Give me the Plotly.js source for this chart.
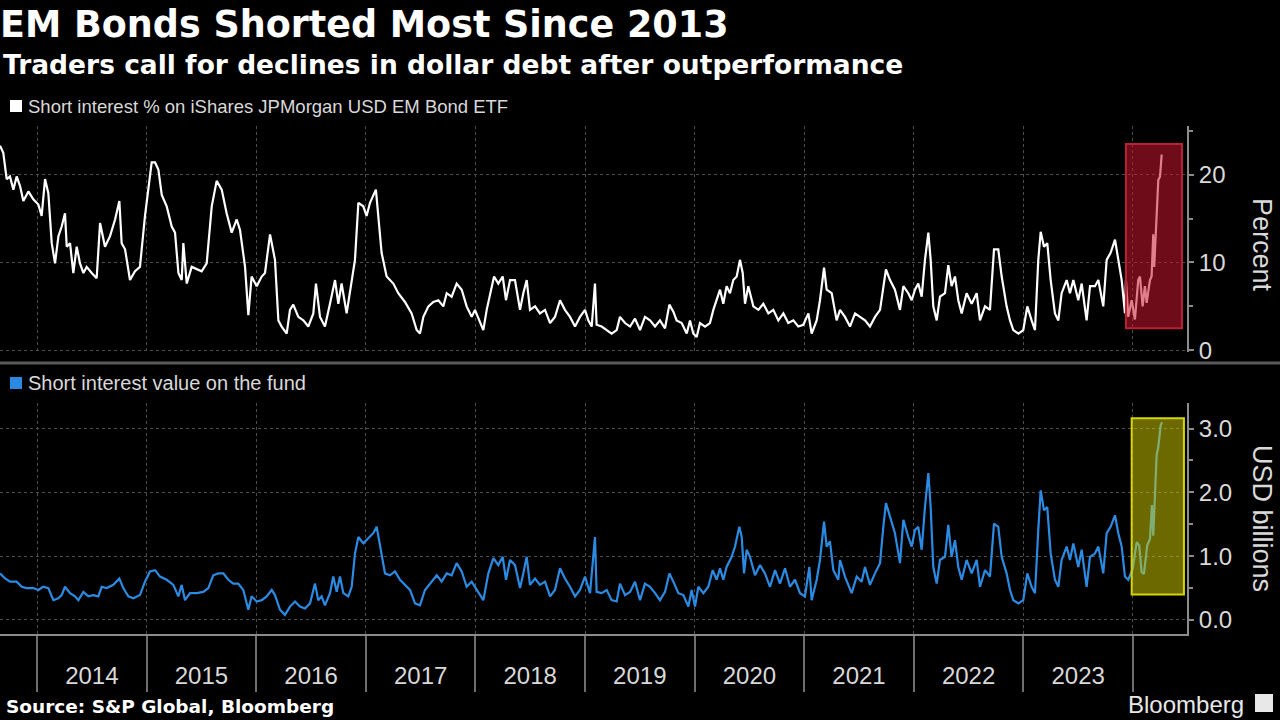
<!DOCTYPE html>
<html><head><meta charset="utf-8">
<script src="https://cdn.plot.ly/plotly-3.0.1.min.js"></script>
<style>html,body{margin:0;padding:0;background:#000;}#chart{width:1280px;height:720px;}</style>
</head><body><div id="chart"></div>
<script>
// ---- Data (time in decimal years) ----
const tTop = [
2013.662,2013.692,2013.723,2013.753,2013.784,2013.814,2013.845,2013.875,2013.921,2013.966,
2014.012,2014.042,2014.073,2014.103,2014.134,2014.164,2014.195,2014.225,2014.255,2014.271,
2014.301,2014.331,2014.362,2014.392,2014.423,2014.453,2014.499,2014.544,2014.575,2014.620,
2014.666,2014.712,2014.751,2014.772,2014.803,2014.848,2014.894,2014.939,2014.985,2015.016,
2015.046,2015.077,2015.107,2015.138,2015.183,2015.229,2015.259,2015.290,2015.320,2015.335,
2015.366,2015.411,2015.457,2015.502,2015.548,2015.594,2015.639,2015.685,2015.730,2015.776,
2015.822,2015.852,2015.898,2015.928,2015.958,2016.004,2016.050,2016.080,2016.126,2016.171,
2016.202,2016.232,2016.278,2016.308,2016.338,2016.384,2016.430,2016.475,2016.521,2016.545,
2016.582,2016.627,2016.673,2016.719,2016.749,2016.779,2016.825,2016.871,2016.901,2016.932,
2016.977,2017.007,2017.038,2017.092,2017.114,2017.144,2017.190,2017.251,2017.296,2017.357,
2017.418,2017.464,2017.494,
2017.525,2017.571,2017.616,2017.662,2017.707,2017.738,2017.783,2017.829,2017.875,2017.920,
2017.966,2017.996,2018.042,2018.072,2018.103,2018.133,2018.170,2018.209,2018.249,2018.279,
2018.316,2018.361,2018.407,2018.437,2018.468,2018.498,2018.544,2018.589,2018.635,2018.681,
2018.726,2018.772,2018.817,2018.863,2018.909,2018.954,2019.000,2019.030,2019.061,2019.091,
2019.106,2019.152,2019.198,2019.243,2019.289,2019.319,2019.365,2019.411,2019.456,2019.502,
2019.547,2019.593,2019.639,2019.684,2019.730,2019.770,2019.806,2019.836,2019.882,2019.928,
2019.958,2019.988,2020.019,2020.049,2020.095,2020.140,2020.171,2020.201,2020.232,2020.262,
2020.292,2020.323,2020.353,2020.384,2020.414,2020.439,2020.460,2020.490,2020.536,2020.582,
2020.627,2020.673,2020.718,2020.764,2020.810,2020.855,2020.901,2020.946,2020.992,2021.038,
2021.068,2021.114,2021.144,2021.181,2021.205,2021.251,2021.296,
2021.327,2021.372,2021.418,2021.464,2021.509,2021.555,2021.600,2021.646,2021.692,2021.722,
2021.746,2021.783,2021.828,2021.874,2021.905,2021.950,2021.981,2022.011,2022.041,2022.072,
2022.102,2022.133,2022.154,2022.178,2022.209,2022.239,2022.285,2022.315,2022.345,2022.376,
2022.406,2022.437,2022.482,2022.528,2022.574,2022.604,2022.650,2022.695,2022.732,2022.771,
2022.802,2022.847,2022.878,2022.908,2022.954,2022.999,2023.036,2023.075,2023.106,2023.136,
2023.158,2023.188,2023.218,2023.249,2023.288,2023.319,2023.349,2023.395,2023.425,2023.456,
2023.501,2023.532,2023.577,2023.608,2023.653,2023.684,2023.729,2023.760,2023.796,2023.836,
2023.866,2023.897,2023.927,2023.936,2023.957,2023.988,2024.018,2024.048,2024.064,2024.088,
2024.109,2024.125,2024.155,2024.170,2024.185,2024.194,2024.231,2024.247,2024.262
];
const pctTop = [
23.3,22.5,19.5,19.8,18.3,19.8,18.7,17.0,18.1,17.2,
16.6,15.3,19.5,17.9,12.2,9.9,13.0,14.1,15.6,11.8,
12.2,8.8,11.8,9.9,8.8,9.5,8.8,8.2,14.5,11.8,
13.0,14.9,17.0,12.2,11.5,8.0,9.0,9.5,15.3,18.7,
21.4,21.4,20.6,17.7,16.4,14.1,13.4,8.8,8.0,12.2,
7.6,9.5,9.2,9.0,9.9,16.4,19.3,18.3,15.6,13.4,
14.9,13.7,9.5,4.0,8.4,7.3,8.4,8.8,13.2,10.3,
3.4,2.7,1.9,4.6,5.2,3.8,3.4,2.7,4.2,7.6,
3.8,2.7,5.3,8.0,5.3,7.6,4.2,8.0,10.3,16.8,
16.4,15.3,16.8,18.3,15.6,11.1,8.4,7.6,6.5,5.5,
4.2,2.3,1.9,
3.8,5.0,5.5,5.7,5.0,6.5,6.1,7.6,6.9,5.0,
3.8,4.6,3.1,2.3,4.6,6.5,8.4,7.6,8.4,5.7,
8.0,8.0,4.6,6.5,8.0,4.6,5.0,4.2,4.6,3.1,
3.8,5.7,4.6,3.8,2.7,3.8,4.6,3.4,2.7,7.6,
2.9,2.7,2.3,1.9,2.3,3.8,3.1,2.7,3.6,2.3,
3.8,3.4,2.7,3.4,2.5,5.2,4.4,3.4,3.1,1.9,
3.4,1.9,1.5,3.1,2.7,3.1,4.6,5.7,6.9,5.3,
7.3,6.5,8.0,8.4,10.3,8.8,5.3,7.3,5.0,4.6,
5.3,4.2,4.6,3.4,4.2,3.1,3.4,2.7,2.9,4.2,
1.9,3.4,5.7,9.4,6.9,6.5,3.4,
4.6,3.8,2.7,4.2,3.8,3.4,2.7,3.8,4.6,7.3,
9.2,8.0,6.9,4.6,7.3,6.5,5.7,6.9,7.6,6.1,
10.3,13.4,10.3,5.0,3.4,6.1,6.5,9.7,7.3,8.4,
5.7,4.2,6.5,5.3,6.5,3.4,5.0,4.6,11.5,11.5,
8.4,5.0,3.4,2.3,1.9,2.3,5.0,3.4,2.3,10.3,
13.5,11.8,12.2,8.0,4.2,3.4,6.5,8.0,6.5,8.0,
5.7,7.6,3.4,7.3,7.3,8.0,5.0,10.3,11.1,12.6,
10.3,8.0,4.2,8.0,3.8,5.7,3.5,8.0,8.4,5.0,
7.3,5.4,8.0,8.4,13.2,9.5,19.4,19.8,22.3
];
const tBot = [
2013.662,2013.708,2013.753,2013.814,2013.860,2013.905,2013.966,2014.012,2014.057,2014.103,
2014.149,2014.194,2014.225,2014.255,2014.301,2014.346,2014.377,2014.423,2014.468,2014.514,
2014.559,2014.590,2014.635,2014.696,2014.751,2014.787,2014.833,2014.879,2014.939,2014.985,
2015.031,2015.077,2015.122,2015.183,2015.244,2015.289,2015.320,2015.350,2015.396,2015.456,
2015.517,2015.563,2015.608,2015.654,2015.700,2015.745,2015.791,2015.836,2015.882,2015.928,
2015.958,2016.004,2016.050,2016.095,2016.141,2016.171,2016.217,2016.262,2016.308,2016.354,
2016.399,2016.445,2016.491,2016.536,2016.566,2016.597,2016.627,2016.673,2016.703,2016.734,
2016.764,2016.795,2016.840,2016.871,2016.901,2016.932,2016.977,2017.023,2017.068,2017.099,
2017.129,2017.175,2017.220,2017.266,2017.312,2017.357,2017.403,2017.449,2017.494,
2017.540,2017.586,2017.647,2017.692,2017.738,2017.783,2017.829,2017.875,2017.920,2017.966,
2018.012,2018.072,2018.118,2018.164,2018.209,2018.249,2018.279,2018.316,2018.361,2018.407,
2018.437,2018.468,2018.498,2018.544,2018.589,2018.635,2018.681,2018.726,2018.772,2018.817,
2018.863,2018.909,2018.954,2019.000,2019.046,2019.091,2019.106,2019.152,2019.198,2019.243,
2019.289,2019.319,2019.365,2019.411,2019.456,2019.502,2019.547,2019.593,2019.639,2019.684,
2019.730,2019.770,2019.806,2019.852,2019.897,2019.943,2019.973,2020.004,2020.034,2020.080,
2020.125,2020.165,2020.201,2020.232,2020.262,2020.292,2020.338,2020.369,2020.408,2020.430,
2020.451,2020.475,2020.505,2020.551,2020.597,2020.642,2020.688,2020.734,2020.779,2020.825,
2020.870,2020.916,2020.962,2021.007,2021.047,2021.068,2021.114,2021.144,2021.181,2021.205,
2021.235,2021.266,2021.311,
2021.327,2021.372,2021.433,2021.479,2021.524,2021.555,2021.600,2021.646,2021.692,2021.722,
2021.746,2021.783,2021.828,2021.874,2021.905,2021.950,2021.981,2022.011,2022.041,2022.072,
2022.102,2022.133,2022.154,2022.178,2022.209,2022.239,2022.285,2022.315,2022.345,2022.376,
2022.406,2022.437,2022.482,2022.528,2022.574,2022.604,2022.650,2022.695,2022.732,2022.771,
2022.802,2022.847,2022.878,2022.908,2022.954,2022.999,2023.036,2023.075,2023.106,2023.136,
2023.158,2023.188,2023.218,2023.249,2023.288,2023.319,2023.349,2023.395,2023.425,2023.456,
2023.501,2023.532,2023.577,2023.608,2023.653,2023.684,2023.729,2023.760,2023.796,2023.836,
2023.866,2023.897,2023.927,2023.957,2023.997,2024.034,2024.057,2024.079,2024.100,2024.130,
2024.155,2024.173,2024.185,2024.216,2024.231,2024.253,2024.265
];
const usdBot = [
0.73,0.65,0.60,0.60,0.52,0.50,0.50,0.47,0.52,0.50,
0.31,0.34,0.39,0.52,0.42,0.37,0.31,0.44,0.37,0.39,
0.37,0.52,0.50,0.55,0.65,0.50,0.37,0.34,0.39,0.60,
0.76,0.78,0.68,0.63,0.55,0.37,0.55,0.31,0.42,0.42,
0.44,0.50,0.70,0.73,0.73,0.63,0.57,0.57,0.47,0.16,
0.37,0.29,0.31,0.37,0.47,0.39,0.16,0.08,0.21,0.29,
0.21,0.18,0.26,0.57,0.31,0.37,0.23,0.42,0.68,0.44,
0.68,0.42,0.37,0.52,1.04,1.30,1.20,1.28,1.36,1.46,
1.15,0.73,0.70,0.76,0.63,0.55,0.47,0.26,0.23,
0.47,0.57,0.70,0.60,0.73,0.70,0.89,0.76,0.52,0.60,
0.47,0.31,0.73,0.97,0.86,0.99,0.63,0.94,0.86,0.50,
0.73,0.99,0.55,0.65,0.55,0.60,0.37,0.47,0.81,0.65,
0.52,0.37,0.47,0.68,0.42,1.30,0.44,0.42,0.47,0.31,
0.29,0.57,0.39,0.44,0.60,0.31,0.57,0.52,0.42,0.31,
0.44,0.73,0.60,0.42,0.39,0.21,0.47,0.21,0.52,0.42,
0.52,0.78,0.63,0.81,0.63,0.83,0.99,1.15,1.46,1.30,
0.73,1.10,0.99,0.70,0.86,0.73,0.52,0.78,0.57,0.81,
0.52,0.63,0.42,0.37,0.83,0.31,0.63,0.94,1.54,1.15,
1.23,0.78,0.63,
0.94,0.68,0.42,0.68,0.60,0.83,0.55,0.73,0.89,1.46,
1.83,1.62,1.36,0.89,1.57,1.30,1.15,1.41,1.46,1.10,
1.77,2.30,1.77,0.83,0.57,0.94,0.99,1.49,0.99,1.25,
0.83,0.63,0.94,0.73,0.94,0.52,0.78,0.68,1.51,1.46,
0.99,0.73,0.47,0.31,0.26,0.31,0.73,0.52,0.42,1.41,
2.03,1.72,1.77,1.04,0.63,0.52,0.94,1.15,0.94,1.20,
0.83,1.10,0.52,0.99,1.04,1.15,0.73,1.36,1.46,1.64,
1.36,1.15,0.68,0.63,0.80,1.22,1.17,0.75,0.72,1.17,
1.27,1.80,1.32,2.58,2.71,3.05,3.10
];
const yearBounds = [2014,2015,2016,2017,2018,2019,2020,2021,2022,2023,2024];
const yearMids   = [2014.5,2015.5,2016.5,2017.5,2018.5,2019.5,2020.5,2021.5,2022.5,2023.5];
const yearLabels = ['2014','2015','2016','2017','2018','2019','2020','2021','2022','2023'];
const xRange = [2013.662, 2024.493];
// highlighted recent period
const hiTopX = [2023.936, 2024.447], hiTopY = [2.5, 23.5];
const hiBotX = [2023.988, 2024.465], hiBotY = [0.40, 3.16];

// ---- Styling ----
const SANS = '"Liberation Sans", Arial, sans-serif';
const BOLD = '"DejaVu Sans", sans-serif';
const W = 1187, H = 720;         // plot width in px (margin.r = 93)
const px = v => v / W;           // horizontal pixel -> paper
const py = v => 1 - v / H;       // vertical pixel -> paper
const GRID = '#4d4d4d', AXIS = '#8c8c8c', TXT = '#d9d9d9';

const traces = [
  {x: tTop, y: pctTop, xaxis: 'x', yaxis: 'y', type: 'scatter', mode: 'lines',
   line: {color: '#ffffff', width: 2.2}, hoverinfo: 'skip', showlegend: false},
  {x: tBot, y: usdBot, xaxis: 'x2', yaxis: 'y2', type: 'scatter', mode: 'lines',
   line: {color: '#2b8be3', width: 2.2}, hoverinfo: 'skip', showlegend: false}
];

const layout = {
  width: 1280, height: 720,
  paper_bgcolor: '#000', plot_bgcolor: '#000',
  margin: {l: 0, r: 93, t: 0, b: 0},
  showlegend: false,
  title: {text: 'EM Bonds Shorted Most Since 2013', xref: 'container', x: 0, xanchor: 'left',
          yref: 'container', y: py(24), yanchor: 'middle',
          font: {family: BOLD, size: 36.5, weight: 'bold', color: '#ffffff'}},
  xaxis: {domain: [0, 1], anchor: 'y', range: xRange, tickmode: 'array', tickvals: yearBounds,
          showticklabels: false, ticks: '', showgrid: true, gridcolor: GRID, griddash: 'dot',
          gridwidth: 1, zeroline: false, showline: false},
  xaxis2: {domain: [0, 1], anchor: 'y2', range: xRange, tickmode: 'array', tickvals: yearMids,
           ticktext: yearLabels, ticks: '', showgrid: false, zeroline: false,
           showline: true, linecolor: AXIS, linewidth: 2,
           tickfont: {family: SANS, size: 24, color: TXT}, ticklabelstandoff: 19,
           minor: {tickmode: 'array', tickvals: yearBounds, ticks: 'outside', ticklen: 56,
                   tickcolor: '#6e6e6e', tickwidth: 2, showgrid: true, gridcolor: GRID,
                   griddash: 'dot', gridwidth: 1}},
  yaxis: {domain: [py(352), py(126)], anchor: 'x', side: 'right', range: [-0.2, 25.55],
          tickmode: 'array', tickvals: [0, 10, 20], ticks: 'outside', ticklen: 5,
          tickcolor: AXIS, tickwidth: 2, showline: true, linecolor: AXIS, linewidth: 2,
          showgrid: true, gridcolor: GRID, griddash: 'dot', zeroline: false,
          tickfont: {family: SANS, size: 24, color: TXT},
          minor: {tickmode: 'array', tickvals: [5, 15, 25], ticks: 'outside', ticklen: 4,
                  tickcolor: AXIS, tickwidth: 2, showgrid: false}},
  yaxis2: {domain: [py(634), py(403)], anchor: 'x2', side: 'right', range: [-0.22, 3.40],
           tickmode: 'array', tickvals: [0, 1, 2, 3], tickformat: '.1f', ticks: 'outside', ticklen: 5,
           tickcolor: AXIS, tickwidth: 2, showline: true, linecolor: AXIS, linewidth: 2,
           showgrid: true, gridcolor: GRID, griddash: 'dot', zeroline: false,
           tickfont: {family: SANS, size: 24, color: TXT},
           minor: {tickmode: 'array', tickvals: [0.5, 1.5, 2.5], ticks: 'outside', ticklen: 4,
                   tickcolor: AXIS, tickwidth: 2, showgrid: false}},
  shapes: [
    {type: 'rect', xref: 'x', yref: 'y', x0: hiTopX[0], x1: hiTopX[1], y0: hiTopY[0], y1: hiTopY[1],
     fillcolor: 'rgba(200,22,48,0.55)', line: {color: '#b82234', width: 2}, layer: 'above'},
    {type: 'rect', xref: 'x2', yref: 'y2', x0: hiBotX[0], x1: hiBotX[1], y0: hiBotY[0], y1: hiBotY[1],
     fillcolor: 'rgba(215,210,0,0.5)', line: {color: '#d6d600', width: 2}, layer: 'above'},
    {type: 'line', xref: 'paper', yref: 'paper', x0: 0, x1: px(1280), y0: py(363), y1: py(363),
     line: {color: '#5a5a5a', width: 3}},
    {type: 'rect', xref: 'paper', yref: 'paper', x0: px(10), x1: px(22), y0: py(112), y1: py(100),
     fillcolor: '#ffffff', line: {width: 0}},
    {type: 'rect', xref: 'paper', yref: 'paper', x0: px(10), x1: px(22), y0: py(389), y1: py(377),
     fillcolor: '#2b8be3', line: {width: 0}},
    {type: 'rect', xref: 'paper', yref: 'paper', x0: px(1255), x1: px(1273), y0: py(712), y1: py(694),
     fillcolor: '#e8e8e8', line: {width: 0}}
  ],
  annotations: [
    {text: 'Traders call for declines in dollar debt after outperformance', xref: 'paper', yref: 'paper',
     x: px(1), y: py(64), xanchor: 'left', yanchor: 'middle', showarrow: false,
     font: {family: BOLD, size: 26.5, weight: 'bold', color: '#ffffff'}},
    {text: 'Short interest % on iShares JPMorgan USD EM Bond ETF', xref: 'paper', yref: 'paper',
     x: px(26), y: py(106), xanchor: 'left', yanchor: 'middle', showarrow: false,
     font: {family: SANS, size: 18.5, color: TXT}},
    {text: 'Short interest value on the fund', xref: 'paper', yref: 'paper',
     x: px(26), y: py(383), xanchor: 'left', yanchor: 'middle', showarrow: false,
     font: {family: SANS, size: 20, color: TXT}},
    {text: 'Percent', xref: 'paper', yref: 'paper', x: px(1262), y: py(245), textangle: 90,
     xanchor: 'center', yanchor: 'middle', showarrow: false,
     font: {family: SANS, size: 27, color: TXT}},
    {text: 'USD billions', xref: 'paper', yref: 'paper', x: px(1262), y: py(518), textangle: 90,
     xanchor: 'center', yanchor: 'middle', showarrow: false,
     font: {family: SANS, size: 27, color: TXT}},
    {text: 'Source: S&P Global, Bloomberg', xref: 'paper', yref: 'paper',
     x: px(4), y: py(706), xanchor: 'left', yanchor: 'middle', showarrow: false,
     font: {family: BOLD, size: 18.5, weight: 'bold', color: '#ffffff'}},
    {text: 'Bloomberg', xref: 'paper', yref: 'paper',
     x: px(1246), y: py(704), xanchor: 'right', yanchor: 'middle', showarrow: false,
     font: {family: SANS, size: 24, color: '#e8e8e8'}}
  ]
};

Plotly.newPlot('chart', traces, layout, {staticPlot: true, displayModeBar: false});
</script>
</body></html>
